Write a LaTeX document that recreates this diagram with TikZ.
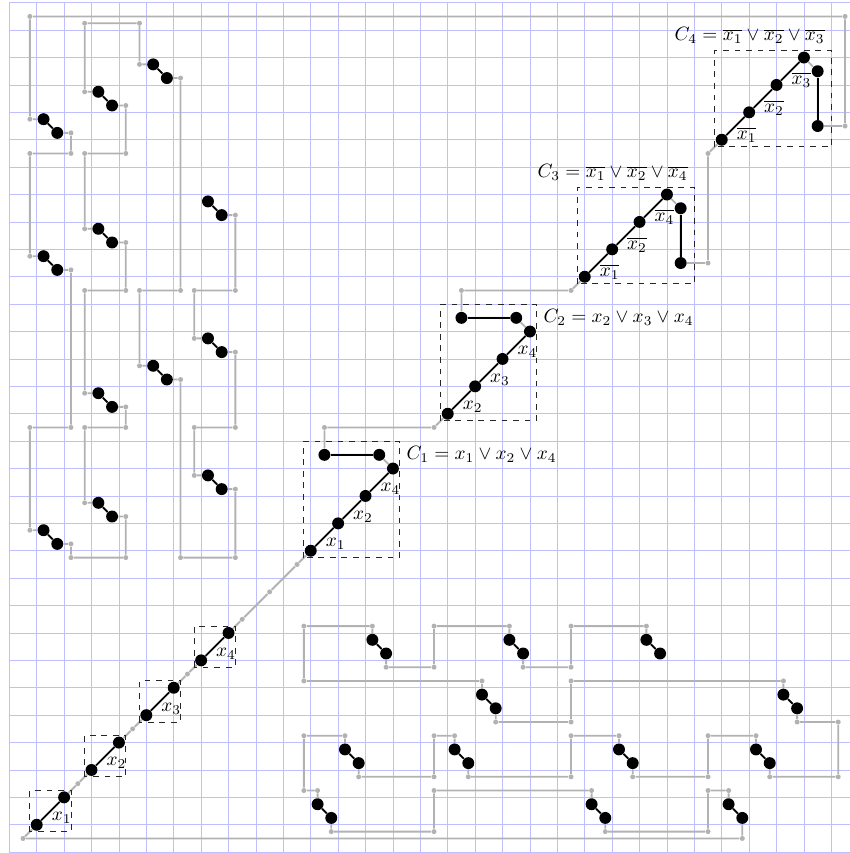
\documentclass[tikz,border=0pt]{standalone}
\pgfdeclarelayer{gridlayer}
\pgfdeclarelayer{linelayer}
\pgfsetlayers{gridlayer,linelayer,main}
\begin{document}
\begin{tikzpicture}[x=0.5cm,y=0.5cm,
  gridln/.style={blue!25, line width=0.4pt},
  gline/.style={gray!60, line width=0.95pt, line join=round},
  bline/.style={black, line width=0.9pt},
  bdot/.style={circle, fill=black, inner sep=0pt, minimum size=6.2pt},
  gdot/.style={circle, fill=gray!60, inner sep=0pt, minimum size=2.6pt},
  dbox/.style={dashed, black!85, line width=0.45pt},
  lbl/.style={anchor=north west, inner sep=0.5pt},
]
\useasboundingbox (-0.34,-1.03) rectangle (30.68,30.1);
\begin{pgfonlayer}{gridlayer}
  \draw[gridln, step=0.5cm] (0,-1) grid (30.68,30);
\end{pgfonlayer}

% ---------- black dot pairs (variable/filler gadgets)
\foreach \n/\x/\y in {L1/1.25/25.75, L2/1.25/20.75, L3/1.25/10.75,
  L4/3.25/11.75, L5/3.25/15.75, L6/3.25/21.75, L7/3.25/26.75,
  L8/5.25/27.75, L9/5.25/16.75, L10/7.25/12.75, L11/7.25/17.75, L12/7.25/22.75,
  B1/13.25/6.75, B2/18.25/6.75, B3/23.25/6.75, B4/17.25/4.75, B5/28.25/4.75,
  B6/12.25/2.75, B7/16.25/2.75, B8/22.25/2.75, B9/27.25/2.75,
  B10/11.25/0.75, B11/21.25/0.75, B12/26.25/0.75}{
  \node[bdot] (\n-a) at (\x,\y) {};
  \node[bdot] (\n-b) at (\x+0.5,\y-0.5) {};
}
% ---------- literal gadgets
\foreach \i in {1,...,4}{
  \node[bdot] (X\i-a) at ({2*\i-1},{2*\i-2}) {};
  \node[bdot] (X\i-b) at ({2*\i},{2*\i-1}) {};
}
% ---------- clause gadgets
\foreach \c/\o in {1/11,2/16,3/21,4/26}{
  \foreach \k in {1,...,4}{
    \node[bdot] (C\c-\k) at ({\o+\k-1},{\o+\k-2}) {};
  }
}
\node[bdot] (C1-l) at (11.5,13.5) {};
\node[bdot] (C1-r) at (13.5,13.5) {};
\node[bdot] (C2-l) at (16.5,18.5) {};
\node[bdot] (C2-r) at (18.5,18.5) {};
\node[bdot] (C3-u) at (24.5,22.5) {};
\node[bdot] (C3-d) at (24.5,20.5) {};
\node[bdot] (C4-u) at (29.5,27.5) {};
\node[bdot] (C4-d) at (29.5,25.5) {};

% ---------- gray corner points
\foreach \n/\x/\y in {q1/8.25/22.25, q2/8.25/19.5, q3/6.75/19.5, q4/6.75/17.75,
  q5/8.25/17.25, q6/8.25/14.5, q7/6.75/14.5, q8/6.75/12.75, q9/8.25/12.25,
  q10/8.25/9.75, q11/6.25/9.75, q12/6.25/16.25, q13/4.75/16.75, q14/4.75/19.5,
  q15/6.25/19.5, q16/6.25/27.25, q17/4.75/27.75, q18/4.75/29.25, q19/2.75/29.25,
  q20/2.75/26.75, q21/4.25/26.25, q22/4.25/24.5, q23/2.75/24.5, q24/2.75/21.75,
  q25/4.25/21.25, q26/4.25/19.5, q27/2.75/19.5, q28/2.75/15.75, q29/4.25/15.25,
  q30/4.25/14.5, q31/2.75/14.5, q32/2.75/11.75, q33/4.25/11.25, q34/4.25/9.75,
  q35/2.25/9.75, q36/2.25/10.25, q37/0.75/10.75, q38/0.75/14.5, q39/2.25/14.5,
  q40/2.25/20.25, q41/0.75/20.75, q42/0.75/24.5, q43/2.25/24.5, q44/2.25/25.25,
  q45/0.75/25.75, q46/0.75/29.5,
  r1/30.5/29.5, r2/30.5/25.5, r3/25.5/24.5, r4/25.5/20.5, r5/20.5/19.5,
  r6/16.5/19.5, r7/15.5/14.5, r8/11.5/14.5, r9/10.5/9.5, r10/9.5/8.5,
  r11/8.5/7.5, r12/6.5/5.5, r13/4.5/3.5, r14/2.5/1.5, r15/0.5/-0.5,
  s1/26.75/-0.5, s2/26.25/1.25, s3/25.5/1.25, s4/25.5/-0.25, s5/21.75/-0.25,
  s6/21.25/1.25, s7/15.5/1.25, s8/15.5/-0.25, s9/11.75/-0.25, s10/11.25/1.25,
  s11/10.75/1.25, s12/10.75/3.25, s13/12.25/3.25, s14/12.75/1.75, s15/15.5/1.75,
  s16/15.5/3.25, s17/16.25/3.25, s18/16.75/1.75, s19/20.5/1.75, s20/20.5/3.25,
  s21/22.25/3.25, s22/22.75/1.75, s23/25.5/1.75, s24/25.5/3.25, s25/27.25/3.25,
  s26/27.75/1.75, s27/30.25/1.75, s28/30.25/3.75, s29/28.75/3.75, s30/28.25/5.25,
  s31/20.5/5.25, s32/20.5/3.75, s33/17.75/3.75, s34/17.25/5.25, s35/10.75/5.25,
  s36/10.75/7.25, s37/13.25/7.25, s38/13.75/5.75, s39/15.5/5.75, s40/15.5/7.25,
  s41/18.25/7.25, s42/18.75/5.75, s43/20.5/5.75, s44/20.5/7.25, s45/23.25/7.25}{
  \node[gdot] (\n) at (\x,\y) {};
}

\begin{pgfonlayer}{linelayer}
% ---------- the gray path
\draw[gline] (L12-a) -- (L12-b) -- (q1) -- (q2) -- (q3) -- (q4) -- (L11-a) -- (L11-b)
  -- (q5) -- (q6) -- (q7) -- (q8) -- (L10-a) -- (L10-b) -- (q9) -- (q10) -- (q11)
  -- (q12) -- (L9-b) -- (L9-a) -- (q13) -- (q14) -- (q15) -- (q16) -- (L8-b) -- (L8-a)
  -- (q17) -- (q18) -- (q19) -- (q20) -- (L7-a) -- (L7-b) -- (q21) -- (q22) -- (q23)
  -- (q24) -- (L6-a) -- (L6-b) -- (q25) -- (q26) -- (q27) -- (q28) -- (L5-a) -- (L5-b)
  -- (q29) -- (q30) -- (q31) -- (q32) -- (L4-a) -- (L4-b) -- (q33) -- (q34) -- (q35)
  -- (q36) -- (L3-b) -- (L3-a) -- (q37) -- (q38) -- (q39) -- (q40) -- (L2-b) -- (L2-a)
  -- (q41) -- (q42) -- (q43) -- (q44) -- (L1-b) -- (L1-a) -- (q45) -- (q46)
  -- (r1) -- (r2) -- (C4-d) -- (C4-u) -- (C4-4) -- (C4-3) -- (C4-2) -- (C4-1)
  -- (r3) -- (r4) -- (C3-d) -- (C3-u) -- (C3-4) -- (C3-3) -- (C3-2) -- (C3-1)
  -- (r5) -- (r6) -- (C2-l) -- (C2-r) -- (C2-4) -- (C2-3) -- (C2-2) -- (C2-1)
  -- (r7) -- (r8) -- (C1-l) -- (C1-r) -- (C1-4) -- (C1-3) -- (C1-2) -- (C1-1)
  -- (r9) -- (r10) -- (r11) -- (X4-b) -- (X4-a) -- (r12) -- (X3-b) -- (X3-a)
  -- (r13) -- (X2-b) -- (X2-a) -- (r14) -- (X1-b) -- (X1-a) -- (r15)
  -- (s1) -- (B12-b) -- (B12-a) -- (s2) -- (s3) -- (s4) -- (s5) -- (B11-b) -- (B11-a)
  -- (s6) -- (s7) -- (s8) -- (s9) -- (B10-b) -- (B10-a) -- (s10) -- (s11) -- (s12)
  -- (s13) -- (B6-a) -- (B6-b) -- (s14) -- (s15) -- (s16) -- (s17) -- (B7-a) -- (B7-b)
  -- (s18) -- (s19) -- (s20) -- (s21) -- (B8-a) -- (B8-b) -- (s22) -- (s23) -- (s24)
  -- (s25) -- (B9-a) -- (B9-b) -- (s26) -- (s27) -- (s28) -- (s29) -- (B5-b) -- (B5-a)
  -- (s30) -- (s31) -- (s32) -- (s33) -- (B4-b) -- (B4-a) -- (s34) -- (s35) -- (s36)
  -- (s37) -- (B1-a) -- (B1-b) -- (s38) -- (s39) -- (s40) -- (s41) -- (B2-a) -- (B2-b)
  -- (s42) -- (s43) -- (s44) -- (s45) -- (B3-a) -- (B3-b);
% ---------- black connections
\foreach \n in {L1,L2,L3,L4,L5,L6,L7,L8,L9,L10,L11,L12,B1,B2,B3,B4,B5,B6,B7,B8,B9,B10,B11,B12,X1,X2,X3,X4}{
  \draw[bline] (\n-a) -- (\n-b);
}
\foreach \c in {1,2,3,4}{
  \draw[bline] (C\c-1) -- (C\c-2) -- (C\c-3) -- (C\c-4);
}
\draw[bline] (C1-l) -- (C1-r);
\draw[bline] (C2-l) -- (C2-r);
\draw[bline] (C3-d) -- (C3-u);
\draw[bline] (C4-d) -- (C4-u);
% ---------- dashed boxes
\draw[dbox] (0.75,-0.25) rectangle (2.25,1.25);
\draw[dbox] (2.75,1.75) rectangle (4.25,3.25);
\draw[dbox] (4.75,3.75) rectangle (6.25,5.25);
\draw[dbox] (6.75,5.75) rectangle (8.25,7.25);
\draw[dbox] (10.75,9.75) rectangle (14.25,14);
\draw[dbox] (15.75,14.75) rectangle (19.25,19);
\draw[dbox] (20.75,19.75) rectangle (25,23.25);
\draw[dbox] (25.75,24.75) rectangle (30,28.25);
\end{pgfonlayer}

% ---------- literal labels
\foreach \i in {1,...,4}{
  \path (X\i-a) -- (X\i-b) node[lbl, midway] {$x_{\i}$};
}
\path (C1-1) -- (C1-2) node[lbl, midway] {$x_1$};
\path (C1-2) -- (C1-3) node[lbl, midway] {$x_2$};
\path (C1-3) -- (C1-4) node[lbl, midway] {$x_4$};
\path (C2-1) -- (C2-2) node[lbl, midway] {$x_2$};
\path (C2-2) -- (C2-3) node[lbl, midway] {$x_3$};
\path (C2-3) -- (C2-4) node[lbl, midway] {$x_4$};
\path (C3-1) -- (C3-2) node[lbl, midway] {$\overline{x_1}$};
\path (C3-2) -- (C3-3) node[lbl, midway] {$\overline{x_2}$};
\path (C3-3) -- (C3-4) node[lbl, midway] {$\overline{x_4}$};
\path (C4-1) -- (C4-2) node[lbl, midway] {$\overline{x_1}$};
\path (C4-2) -- (C4-3) node[lbl, midway] {$\overline{x_2}$};
\path (C4-3) -- (C4-4) node[lbl, midway] {$\overline{x_3}$};
% ---------- clause labels
\node[anchor=west] (lab1) at (14.25,13.5) {$C_1 = x_1 \vee x_2 \vee x_4$};
\node[anchor=west] (lab2) at (19.25,18.5) {$C_2 = x_2 \vee x_3 \vee x_4$};
\node[anchor=south east] (lab3) at (25,23.25) {$C_3 = \overline{x_1} \vee \overline{x_2} \vee \overline{x_4}$};
\node[anchor=south east] (lab4) at (30,28.25) {$C_4 = \overline{x_1} \vee \overline{x_2} \vee \overline{x_3}$};
\end{tikzpicture}
\end{document}
